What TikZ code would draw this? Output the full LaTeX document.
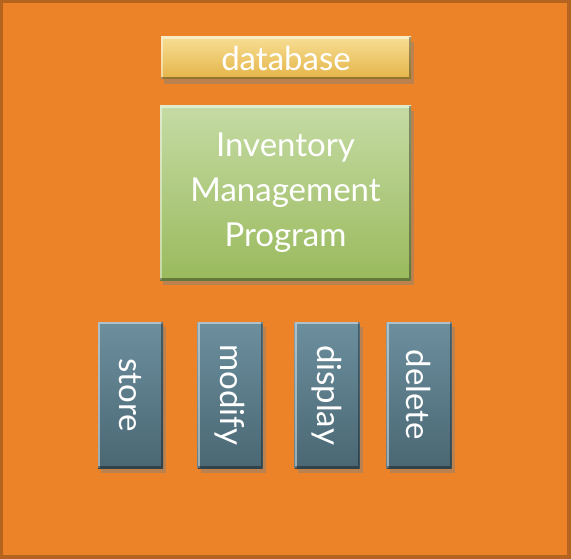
\documentclass[tikz,border=0pt]{standalone}
\usepackage{fontspec}
\setmainfont{Lato}
\usetikzlibrary{shadows}

\newlength{\du}
\setlength{\du}{1pt}

\definecolor{framecolor}{RGB}{180,100,30}
\definecolor{slidecolor}{RGB}{237,131,40}
\definecolor{dbtop}{RGB}{247,222,148}
\definecolor{dbbottom}{RGB}{228,180,72}
\definecolor{progtop}{RGB}{197,219,164}
\definecolor{progbottom}{RGB}{154,186,93}
\definecolor{optop}{RGB}{108,143,158}
\definecolor{opbottom}{RGB}{74,103,115}

\tikzset{
  bevel/.style={path picture={
    \draw[white,opacity=.45,line width=4\du]
      (path picture bounding box.south west) -- (path picture bounding box.north west)
      -- (path picture bounding box.north east);
    \draw[black,opacity=.35,line width=4\du]
      (path picture bounding box.north east) -- (path picture bounding box.south east)
      -- (path picture bounding box.south west);
  }},
  slidebox/.style={rectangle, inner sep=0pt, text=white, bevel,
    drop shadow={opacity=.45, shadow xshift=3\du, shadow yshift=-5\du}},
  dbbox/.style={slidebox, top color=dbtop, bottom color=dbbottom,
    minimum width=250\du, minimum height=42\du, font=\fontsize{33}{38}\selectfont},
  progbox/.style={slidebox, top color=progtop, bottom color=progbottom,
    minimum width=251\du, minimum height=174\du, align=center,
    font=\fontsize{33}{45}\selectfont},
  opbox/.style={slidebox, top color=optop, bottom color=opbottom,
    minimum width=65\du, minimum height=146\du},
  optext/.style={rotate=-90, text=white, inner sep=0pt, font=\fontsize{33}{38}\selectfont}
}

\begin{document}
\begin{tikzpicture}[x=1\du,y=-1\du]
% slide background
\fill[framecolor] (0,0) rectangle (571,559);
\fill[slidecolor] (3,3) rectangle (567,555);
\useasboundingbox (0,0) rectangle (571,559);

% top boxes
\node[dbbox] (database) at (286,58) {database};
\node[progbox] (program) at (285.5,193) {Inventory\\Management\\Program};

% operation boxes
\node[opbox] (store) at (130.5,395) {};
\node[optext] (store text) at (store) {store};
\node[opbox] (modify) at (230,395) {};
\node[optext] (modify text) at (modify) {modify};
\node[opbox] (display) at (327,395) {};
\node[optext] (display text) at (display) {display};
\node[opbox] (delete) at (419,395) {};
\node[optext] (delete text) at (delete) {delete};
\end{tikzpicture}
\end{document}
